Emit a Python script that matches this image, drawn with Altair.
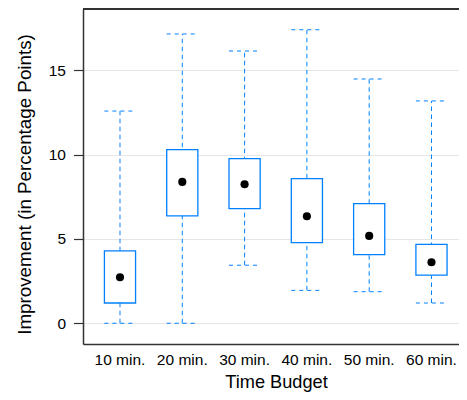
import altair as alt
import pandas as pd

budgets = ["10 min.", "20 min.", "30 min.", "40 min.", "50 min.", "60 min."]
whisker_low = [0.0, 0.0, 3.44, 1.95, 1.87, 1.2]
box_low = [1.2, 6.36, 6.8, 4.78, 4.07, 2.85]
center = [2.73, 8.38, 8.24, 6.34, 5.18, 3.62]
box_high = [4.29, 10.29, 9.76, 8.57, 7.09, 4.68]
whisker_high = [12.58, 17.15, 16.14, 17.4, 14.48, 13.18]
y_ticks = [0, 5, 10, 15]

df = pd.DataFrame({
    "budget": budgets,
    "low": whisker_low,
    "q1": box_low,
    "mid": center,
    "q3": box_high,
    "high": whisker_high,
})

FONT = "Liberation Sans"
BLUE = "#0080ff"
FRAME = "#333333"

xs = alt.Scale(type="band", paddingInner=0.5, paddingOuter=0.2677, align=0.642)
ys = alt.Scale(domain=[-1.23, 18.63], nice=False, zero=False)

x_axis = alt.Axis(
    title="Time Budget", labelAngle=0, domain=True, domainColor=FRAME, domainWidth=1.5,
    ticks=False, tickSize=0,
    labelFont=FONT, labelFontSize=15.5, labelColor="#000000",
    labelBaseline="alphabetic", labelPadding=20,
    titleFont=FONT, titleFontSize=18.2, titleFontWeight="normal", titleColor="#000000",
    titleBaseline="alphabetic", titleY=43, titleX=193, grid=False,
)
y_axis = alt.Axis(
    title="Improvement (in Percentage Points)", values=y_ticks,
    domain=True, domainColor=FRAME, domainWidth=1.5,
    ticks=True, tickSize=9.5, tickColor=FRAME, tickWidth=1.2,
    labelFont=FONT, labelFontSize=15.5, labelColor="#000000", labelPadding=8,
    titleFont=FONT, titleFontSize=18.8, titleFontWeight="normal", titleColor="#000000",
    titleBaseline="alphabetic", titleX=-53, titleY=175,
    grid=True, gridColor="#e6e6e6", gridWidth=1,
)

X = alt.X("budget:N", scale=xs, axis=x_axis, sort=budgets)

base = alt.Chart(df)

whisker = base.mark_rule(color=BLUE, strokeWidth=1, strokeDash=[4.5, 3.5]).encode(
    x=X, y=alt.Y("low:Q", scale=ys, axis=y_axis), y2="high:Q"
)
cap_lo = base.mark_rule(color=BLUE, strokeWidth=1, strokeDash=[4, 4],
                        xOffset=-15.6, x2Offset=15.6).encode(
    x=X, x2="budget:N", y=alt.Y("low:Q", scale=ys, axis=y_axis)
)
cap_hi = base.mark_rule(color=BLUE, strokeWidth=1, strokeDash=[4, 4],
                        xOffset=-15.6, x2Offset=15.6).encode(
    x=X, x2="budget:N", y=alt.Y("high:Q", scale=ys, axis=y_axis)
)
box = base.mark_bar(fill="white", stroke=BLUE, strokeWidth=1.3).encode(
    x=X, y=alt.Y("q1:Q", scale=ys, axis=y_axis), y2="q3:Q"
)
dot = base.mark_circle(color="black", opacity=1, size=66).encode(
    x=X, y=alt.Y("mid:Q", scale=ys, axis=y_axis)
)
top_line = alt.Chart(df).mark_rule(color=FRAME, strokeWidth=1.5).encode(
    y=alt.value(0)
)

chart = alt.layer(whisker, cap_lo, cap_hi, box, dot, top_line).properties(
    width=376, height=335,
    autosize="none",
    padding={"left": 75, "top": 1, "right": 0, "bottom": 48},
).configure_view(stroke=None)

chart.save("out.html", embed_options={"renderer": "svg", "actions": False})
